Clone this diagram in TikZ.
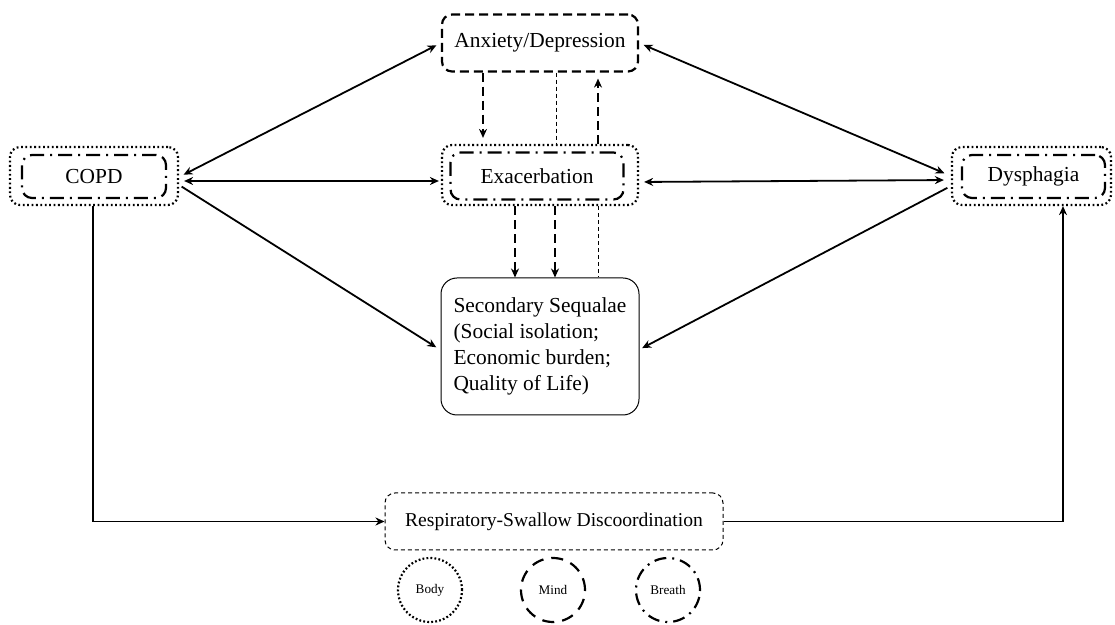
\documentclass[tikz,border=0pt]{standalone}
\usepackage{fontspec}
\setmainfont{Liberation Serif}
\usetikzlibrary{arrows.meta,calc}
\begin{document}
\begin{tikzpicture}[x=0.5pt,y=-0.5pt,
  every node/.style={font=\fontsize{10.7}{13}\selectfont, inner sep=0pt},
  dotbox/.style={draw, line width=1.1pt, dash pattern=on 0.9pt off 1.3pt, rounded corners=5pt},
  ddbox/.style={draw, line width=1.1pt, dash pattern=on 7pt off 3pt on 1pt off 3pt, rounded corners=5pt},
  dashbox/.style={draw, line width=1.1pt, dash pattern=on 4.5pt off 2.5pt, rounded corners=5pt},
  thinbox/.style={draw, line width=0.5pt, dash pattern=on 2pt off 1.5pt, rounded corners=5pt},
  solidbox/.style={draw, line width=0.5pt, rounded corners=8pt},
  tip/.tip={Stealth[length=4.5pt,width=4pt]},
  link/.style={line width=0.9pt, tip-tip},
  arr/.style={line width=0.9pt, -tip},
  dasharr/.style={line width=1pt, dash pattern=on 4.5pt off 2.5pt, -tip},
  thindash/.style={line width=0.45pt, dash pattern=on 2pt off 1.5pt},
  legend/.style={circle, minimum size=32pt, line width=1.1pt, font=\fontsize{6.6}{8}\selectfont},
]
\useasboundingbox (0,0) rectangle (1115,625);

\node[dashbox, minimum width=98pt, minimum height=28.5pt] (anx) at (540,43) {Anxiety/Depression};
\node[dotbox, minimum width=98pt, minimum height=30pt] (exo) at (540,175) {};
\node[ddbox, minimum width=86.5pt, minimum height=23.5pt] (exi) at (537,176) {Exacerbation};
\node[dotbox, minimum width=84pt, minimum height=29pt] (copdo) at (94,176) {};
\node[ddbox, minimum width=72pt, minimum height=21.5pt] (copdi) at (94,176.5) {COPD};
\node[dotbox, minimum width=79.5pt, minimum height=29pt] (dyso) at (1031.5,176) {};
\node[ddbox, minimum width=71.5pt, minimum height=21.5pt] (dysi) at (1033.5,176.5) {Dysphagia};
\node[solidbox, minimum width=99pt, minimum height=68.5pt, align=left] (sec) at (540,346.5)
  {Secondary Sequalae\\(Social isolation;\\Economic burden;\\Quality of Life)};
\node[thinbox, minimum width=169pt, minimum height=28.5pt, font=\fontsize{9.8}{12}\selectfont] (resp) at (554,521.5) {Respiratory-Swallow Discoordination};

\node[legend, draw, dash pattern=on 0.9pt off 1.1pt] (body) at (430,590) {Body};
\node[legend, draw, dash pattern=on 6pt off 4pt] (mind) at (553,590) {Mind};
\node[legend, draw, dash pattern=on 6pt off 3pt on 1pt off 3pt] (breath) at (668,590) {Breath};

% solid connectors
\draw[link, shorten <=2.5pt, shorten >=2.5pt] ([yshift=-0.5pt]copdo.east) -- (anx.west);
\draw[link, shorten <=2.5pt, shorten >=1pt] ([yshift=-2.5pt]copdo.east) -- ([yshift=-3pt]exo.west);
\draw[arr, shorten <=1.5pt, shorten >=2.5pt] ([yshift=-4.5pt]copdo.east) -- ([yshift=-1.75pt]sec.west);
\draw[link, shorten <=3.5pt, shorten >=2.5pt] (dyso.west) -- (anx.east);
\draw[link, shorten <=3.5pt, shorten >=2.5pt] ([yshift=-2pt]dyso.west) -- ([yshift=-3.5pt]exo.east);
\draw[arr, shorten <=2pt, shorten >=1.5pt] ([yshift=-5pt]dyso.west) -- ([yshift=-1.5pt]sec.east);
\draw[arr] ([xshift=-0.5pt]copdo.south) |- (resp.west);
\draw[arr] (resp.east) -| ([xshift=15.75pt]dyso.south);

% dashed connectors
\draw[dasharr, shorten >=3pt] ([xshift=-28.5pt]anx.south) -- ([xshift=-28.5pt]exo.north);
\draw[thindash] ([xshift=8pt]anx.south) -- ([xshift=8pt]exo.north);
\draw[dasharr, shorten >=3pt] ([xshift=29pt]exo.north) -- ([xshift=29pt]anx.south);
\draw[dasharr] ([xshift=-12.5pt]exo.south) -- ([xshift=-12.5pt]sec.north);
\draw[dasharr] ([xshift=7.5pt]exo.south) -- ([xshift=7.5pt]sec.north);
\draw[thindash] ([xshift=29pt]exo.south) -- ([xshift=29pt]sec.north);
\end{tikzpicture}
\end{document}
